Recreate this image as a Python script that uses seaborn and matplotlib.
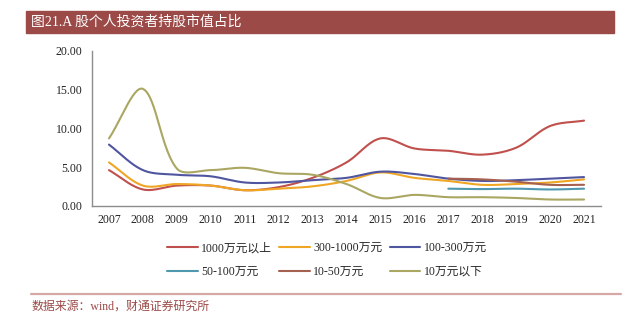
import numpy as np
import pandas as pd
import matplotlib
matplotlib.use("Agg")
import matplotlib.pyplot as plt
from matplotlib.lines import Line2D
import seaborn as sns

# Share of A-share market value held by individual investors, by account size (%)
years = ["2007", "2008", "2009", "2010", "2011", "2012", "2013", "2014",
         "2015", "2016", "2017", "2018", "2019", "2020", "2021"]
labels = ["1000万元以上", "300-1000万元", "100-300万元", "50-100万元", "10-50万元", "10万元以下"]

above_1000 = [4.6, 2.1, 2.6, 2.6, 2.0, 2.4, 3.6, 5.6, 8.7, 7.4, 7.1, 6.6, 7.5, 10.3, 11.0]
r300_1000 = [5.6, 2.6, 2.8, 2.6, 2.0, 2.2, 2.5, 3.2, 4.3, 3.6, 3.2, 2.7, 2.8, 3.0, 3.4]
r100_300 = [7.9, 4.6, 4.0, 3.8, 3.0, 3.0, 3.3, 3.6, 4.4, 4.1, 3.5, 3.2, 3.3, 3.5, 3.7]
r50_100 = [None] * 10 + [2.2, 2.15, 2.2, 2.1, 2.2]
r10_50 = [None] * 10 + [3.5, 3.4, 3.1, 2.7, 2.7]
below_10 = [8.7, 15.1, 4.8, 4.6, 4.9, 4.2, 4.0, 2.8, 1.0, 1.4, 1.1, 1.1, 1.0, 0.8, 0.8]

series = [above_1000, r300_1000, r100_300, r50_100, r10_50, below_10]
colors = ["#C0504D", "#F0A625", "#5055A0", "#4F98B0", "#A5614F", "#AAA762"]

TITLE_BG = "#9B4A47"
FONT = ["Liberation Serif", "Noto Sans CJK SC", "DejaVu Sans"]

# approximate on-screen size of one data unit, used to weight the curve's control points
PX_PER_X = 34.0
PX_PER_Y = 7.73


def smooth(xs, ys, n=30):
    """Chord-weighted cubic Bezier through the points, like a smoothed line chart."""
    p = np.column_stack([np.asarray(xs, float) * PX_PER_X, np.asarray(ys, float) * PX_PER_Y])
    if len(p) < 3:
        return p[:, 0] / PX_PER_X, p[:, 1] / PX_PER_Y
    k = len(p)
    d = np.linalg.norm(np.diff(p, axis=0), axis=1)
    out = []
    for i in range(k - 1):
        p0, p3 = p[i], p[i + 1]
        if i == 0:
            c1 = p0 + (p3 - p0) / 3.0
        else:
            c1 = p0 + (p[i + 1] - p[i - 1]) * d[i] / (d[i - 1] + d[i]) / 3.0
        if i == k - 2:
            c2 = p3 - (p3 - p0) / 3.0
        else:
            c2 = p3 - (p[i + 2] - p[i]) * d[i] / (d[i] + d[i + 1]) / 3.0
        t = np.linspace(0, 1, n, endpoint=(i == k - 2))[:, None]
        seg = ((1 - t) ** 3) * p0 + 3 * ((1 - t) ** 2) * t * c1 + 3 * (1 - t) * t**2 * c2 + t**3 * p3
        out.append(seg)
    out = np.vstack(out)
    return out[:, 0] / PX_PER_X, out[:, 1] / PX_PER_Y


rows = []
for lab, vals in zip(labels, series):
    idx = [i for i, v in enumerate(vals) if v is not None]
    sx, sy = smooth(idx, [vals[i] for i in idx])
    rows.append(pd.DataFrame({"x": sx, "y": sy, "series": lab}))
df = pd.concat(rows, ignore_index=True)

sns.set_theme(style="white")
plt.rcParams["font.family"] = FONT

fig = plt.figure(figsize=(6.36, 3.21), dpi=100)
ax = fig.add_axes([92 / 636, 1 - 205.7 / 321, (601 - 92) / 636, (205.7 - 51) / 321])

sns.lineplot(data=df, x="x", y="y", hue="series", hue_order=labels,
             palette=dict(zip(labels, colors)), sort=False, estimator=None,
             units="series", linewidth=1.5, legend=False, ax=ax)

ax.set_xlim(-0.5, len(years) - 0.5)
ax.set_ylim(0, 20)
ax.set_yticks([0, 5, 10, 15, 20])
ax.set_yticklabels([f"{v:.2f}" for v in [0, 5, 10, 15, 20]])
ax.set_xticks(range(len(years)))
ax.set_xticklabels(years)
ax.set_xticks(np.arange(-0.5, len(years), 1.0), minor=True)
ax.set_xlabel("")
ax.set_ylabel("")

spine_color = "#8C8C8C"
for side in ["top", "right"]:
    ax.spines[side].set_visible(False)
for side in ["left", "bottom"]:
    ax.spines[side].set_color(spine_color)
    ax.spines[side].set_linewidth(1.0)
ax.tick_params(axis="x", which="major", length=0, pad=6, labelsize=8.5, labelcolor="#222222")
ax.tick_params(axis="x", which="minor", length=4, width=1.0, color=spine_color, direction="out")
ax.tick_params(axis="y", which="major", length=4, width=1.0, color=spine_color,
               direction="out", labelsize=8.5, labelcolor="#222222", pad=3)
ax.grid(False)

# Legend: two rows of three
handles = [Line2D([], [], color=c, lw=1.5) for c in colors]
order = [0, 3, 1, 4, 2, 5]
fig.legend([handles[i] for i in order], [labels[i] for i in order],
           ncol=3, loc="center", bbox_to_anchor=(0.514, 0.19), frameon=False,
           handlelength=2.6, handletextpad=0.3, columnspacing=0.6,
           labelspacing=1.0, prop={"family": FONT, "size": 8.5})

# Title bar
fig.patches.append(plt.Rectangle((26 / 636, 1 - 33 / 321), (614 - 26) / 636, 22 / 321,
                                 transform=fig.transFigure, color=TITLE_BG, zorder=0))
fig.text(31 / 636, 1 - 22 / 321, "图21.A 股个人投资者持股市值占比", color="white",
         fontsize=10, va="center", ha="left", family=FONT)

# Source line
fig.add_artist(Line2D([31 / 636, 621 / 636], [1 - 294 / 321, 1 - 294 / 321],
                      transform=fig.transFigure, color="#D8A8A6", lw=1.6))
fig.text(32 / 636, 1 - 307 / 321, "数据来源：wind，财通证券研究所", color=TITLE_BG,
         fontsize=8.6, va="center", ha="left", family=FONT)

fig.savefig("out.png", dpi=100)
